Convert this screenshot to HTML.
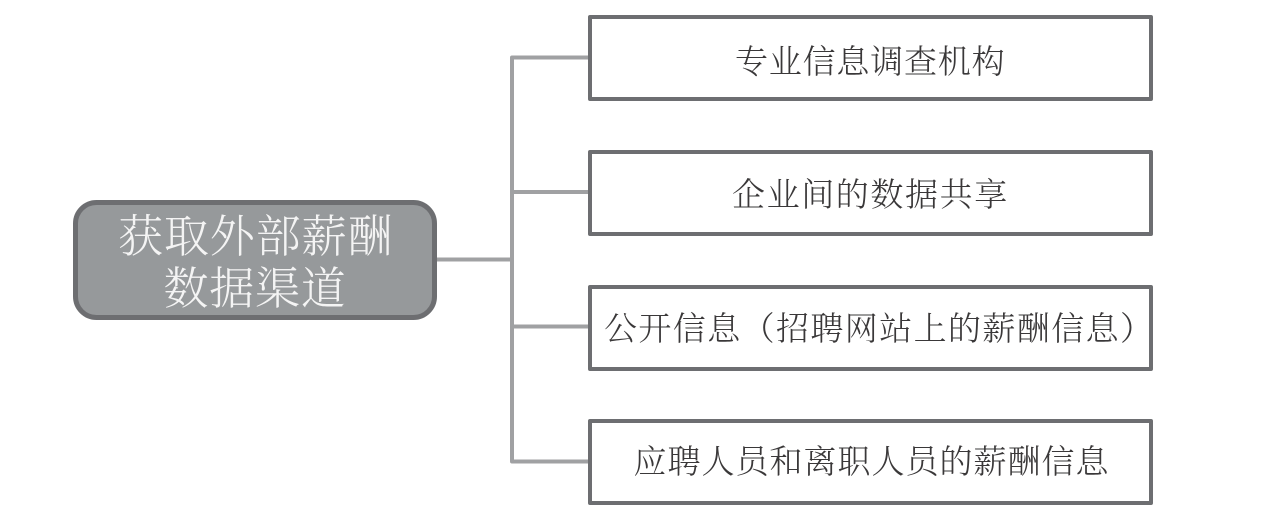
<!DOCTYPE html>
<html><head><meta charset="utf-8"><style>
html,body{margin:0;padding:0;background:#fff;width:1261px;height:526px;overflow:hidden}
svg{display:block}
text{font-family:"Liberation Serif","Noto Serif CJK SC",serif;fill:#3a3839;font-size:33px;font-weight:300}
</style></head><body>
<svg width="1261" height="526" viewBox="0 0 1261 526" xmlns="http://www.w3.org/2000/svg">
<g fill="none" stroke="#a0a1a3" stroke-width="4" stroke-linejoin="round">
<path d="M588 57.500H512V461.500H588"/>
<path d="M512 192H588M512 326.500H588M436 259.500H512"/>
</g>
<g fill="#fff" stroke="#6d6e71" stroke-width="4" stroke-linejoin="round">
<rect x="590" y="17" width="561" height="82"/>
<rect x="590" y="152" width="561" height="82"/>
<rect x="590" y="287" width="561" height="82"/>
<rect x="590" y="421" width="561" height="82"/>
</g>
<rect x="75.500" y="202.500" width="359" height="115" rx="21" fill="#96999b" stroke="#6d6e71" stroke-width="5"/>
<text x="735" y="73" letter-spacing="0.8">专业信息调查机构</text>
<text x="732" y="206" letter-spacing="1.6">企业间的数据共享</text>
<text x="604" y="340" letter-spacing="1.4">公开信息（招聘网站上的薪酬信息）</text>
<text x="633.500" y="473" letter-spacing="1">应聘人员和离职人员的薪酬信息</text>
<text x="118" y="252" letter-spacing="0.9" style="fill:#f4f4f4;font-size:45px">获取外部薪酬</text>
<text x="163.500" y="304" letter-spacing="0.8" style="fill:#f4f4f4;font-size:45px">数据渠道</text>
</svg>
</body></html>
